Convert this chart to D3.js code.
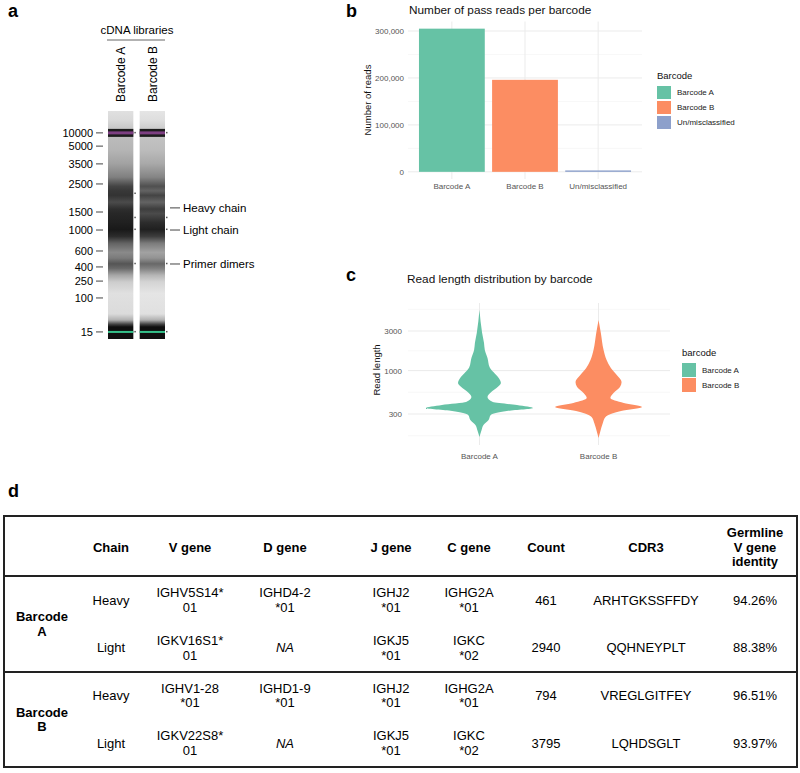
<!DOCTYPE html>
<html>
<head>
<meta charset="UTF-8">
<title></title>
<style>
    body { margin: 0; background: #fff; }
    svg { font-family: 'Liberation Sans', Arial, Helvetica, sans-serif; }
    .panel-label { font-weight: bold; font-size: 18px; fill: #000; }
    .ggtitle { font-size: 11.8px; fill: #111; }
    .axtitle { font-size: 9.5px; fill: #111; }
    .tick text { fill: #555; font-size: 8px; }
    .legtitle { font-size: 9.5px; fill: #111; }
    .leglabel { font-size: 8px; fill: #222; }
    .tbl text { font-size: 13px; fill: #000; }
</style>
</head>
<body>
<svg id="fig" width="800" height="773"></svg>
<script src="https://d3js.org/d3.v7.min.js"></script>
<script>
// ---------- data ----------
// a: gel
var gelLanes = ["Barcode A", "Barcode B"];
var ladderSizes = [10000, 5000, 3500, 2500, 1500, 1000, 600, 400, 250, 100, 15];
var ladderMigration = [0.096, 0.154, 0.232, 0.320, 0.443, 0.522, 0.614, 0.684, 0.746, 0.820, 0.969];
var gelMigration = [0, 0.04, 0.075, 0.11, 0.17, 0.23, 0.29, 0.33, 0.35, 0.37, 0.40, 0.43, 0.45, 0.49, 0.52, 0.55, 0.58, 0.62, 0.645, 0.67, 0.69, 0.72, 0.75, 0.80, 0.89, 0.917, 0.935, 0.947, 1];
var gelDarkA = [0.10, 0.13, 0.20, 0.25, 0.28, 0.36, 0.50, 0.75, 0.80, 0.82, 0.72, 0.84, 0.87, 0.90, 0.93, 0.85, 0.62, 0.46, 0.52, 0.68, 0.60, 0.34, 0.18, 0.10, 0.12, 0.30, 0.75, 0.97, 0.97];
var gelDarkB = [0.08, 0.11, 0.18, 0.22, 0.25, 0.33, 0.48, 0.70, 0.62, 0.75, 0.62, 0.78, 0.72, 0.85, 0.90, 0.78, 0.52, 0.36, 0.42, 0.60, 0.50, 0.28, 0.15, 0.08, 0.10, 0.30, 0.75, 0.97, 0.97];
var gelPeaksA = [0.096, 0.362, 0.468, 0.52, 0.67, 0.969];
var gelPeaksB = [0.096, 0.468, 0.52, 0.67, 0.969];
var gelNotes = ["Heavy chain", "Light chain", "Primer dimers"];
var gelNoteMigration = [0.425, 0.522, 0.671];

// b: reads per barcode
var readBarcodes = ["Barcode A", "Barcode B", "Un/misclassified"];
var readCounts = [305000, 196000, 3000];
var readTicks = [0, 100000, 200000, 300000];
var barcodeColors = ["#66C2A5", "#FC8D62", "#8DA0CB"];

// c: read length violins
var violinBarcodes = ["Barcode A", "Barcode B"];
var lengthA = [5370, 2840, 2150, 1770, 1420, 1100, 960, 815, 710, 635, 552, 480, 418, 385, 354, 326, 292, 254, 221, 192, 158];
var densityA = [0, 0.05, 0.085, 0.10, 0.15, 0.19, 0.26, 0.36, 0.40, 0.34, 0.22, 0.15, 0.25, 0.70, 1.0, 0.51, 0.21, 0.17, 0.075, 0.04, 0];
var lengthB = [4070, 2840, 1770, 1340, 1075, 885, 730, 635, 537, 467, 407, 364, 326, 276, 234, 182, 154];
var densityB = [0, 0.043, 0.094, 0.15, 0.23, 0.34, 0.43, 0.40, 0.28, 0.22, 0.47, 0.81, 0.42, 0.13, 0.08, 0.03, 0];
var lengthTicks = [300, 1000, 3000];

// d: table
var tableHeaders = ["", "Chain", "V gene", "D gene", "J gene", "C gene", "Count", "CDR3", "Germline|V gene|identity"];
var tableGroups = ["Barcode|A", "Barcode|B"];
var tableChains = ["Heavy", "Light", "Heavy", "Light"];
var tableVGenes = ["IGHV5S14*|01", "IGKV16S1*|01", "IGHV1-28|*01", "IGKV22S8*|01"];
var tableDGenes = ["IGHD4-2|*01", "NA", "IGHD1-9|*01", "NA"];
var tableJGenes = ["IGHJ2|*01", "IGKJ5|*01", "IGHJ2|*01", "IGKJ5|*01"];
var tableCGenes = ["IGHG2A|*01", "IGKC|*02", "IGHG2A|*01", "IGKC|*02"];
var tableCounts = [461, 2940, 794, 3795];
var tableCDR3 = ["ARHTGKSSFFDY", "QQHNEYPLT", "VREGLGITFEY", "LQHDSGLT"];
var tableIdentity = ["94.26%", "88.38%", "96.51%", "93.97%"];

// ---------- main ----------
var svg = d3.select("#fig");
var defs = svg.append("defs");

function panelLabel(t, x, y) {
    svg.append("text").attr("class", "panel-label").attr("x", x).attr("y", y).text(t);
}
panelLabel("a", 8, 17);
panelLabel("b", 346, 17);
panelLabel("c", 346, 281);
panelLabel("d", 8, 497);

// ===== panel a : gel =====
var gelY = d3.scaleLinear().domain([0, 1]).range([111, 339]);
var laneX = d3.scaleBand().domain(gelLanes).range([108, 165]).paddingInner(0.2);
function gray(d) {
    var v = Math.round(248 - 240 * d);
    return d3.rgb(v, v, v).toString();
}
var gA = svg.append("g");
[gelDarkA, gelDarkB].forEach(function(dark, i) {
    var grad = defs.append("linearGradient").attr("id", "lane" + i)
        .attr("x1", 0).attr("y1", 0).attr("x2", 0).attr("y2", 1);
    gelMigration.forEach(function(m, j) {
        grad.append("stop").attr("offset", m).attr("stop-color", gray(dark[j]));
    });
});
gA.selectAll("rect.lane").data(gelLanes).enter().append("rect")
    .attr("class", "lane")
    .attr("x", function(d) { return laneX(d); })
    .attr("y", gelY(0))
    .attr("width", laneX.bandwidth())
    .attr("height", gelY(1) - gelY(0))
    .attr("fill", function(d, i) { return "url(#lane" + i + ")"; });

// upper (10000) and lower (15) markers
var upper = ladderMigration[0], lower = ladderMigration[ladderMigration.length - 1];
gelLanes.forEach(function(l) {
    gA.append("rect").attr("x", laneX(l)).attr("width", laneX.bandwidth())
        .attr("y", gelY(upper) - 4).attr("height", 8).attr("fill", "#1c1c1c");
    gA.append("rect").attr("x", laneX(l)).attr("width", laneX.bandwidth())
        .attr("y", gelY(upper) - 1.5).attr("height", 3).attr("fill", "#7d3f82");
    gA.append("rect").attr("x", laneX(l)).attr("width", laneX.bandwidth())
        .attr("y", gelY(lower) - 1).attr("height", 2).attr("fill", "#35c08a");
});
// peak dots
[gelPeaksA, gelPeaksB].forEach(function(pk, i) {
    gA.selectAll(null).data(pk).enter().append("rect")
        .attr("x", laneX(gelLanes[i]) + laneX.bandwidth() + 1)
        .attr("y", function(d) { return gelY(d) - 1; })
        .attr("width", 1.5).attr("height", 1.5).attr("fill", "#555");
});

// ladder
gA.selectAll("text.ladder").data(ladderSizes).enter().append("text")
    .attr("class", "ladder")
    .attr("x", 93).attr("y", function(d, i) { return gelY(ladderMigration[i]); })
    .attr("dy", "0.36em").attr("text-anchor", "end")
    .style("font-size", "11px").text(function(d) { return d; });
gA.selectAll("line.ladder").data(ladderSizes).enter().append("line")
    .attr("class", "ladder")
    .attr("x1", 96).attr("x2", 103)
    .attr("y1", function(d, i) { return gelY(ladderMigration[i]); })
    .attr("y2", function(d, i) { return gelY(ladderMigration[i]); })
    .attr("stroke", "#444").attr("stroke-width", 1);

// annotations
gA.selectAll("line.note").data(gelNotes).enter().append("line")
    .attr("class", "note")
    .attr("x1", 170).attr("x2", 180)
    .attr("y1", function(d, i) { return gelY(gelNoteMigration[i]); })
    .attr("y2", function(d, i) { return gelY(gelNoteMigration[i]); })
    .attr("stroke", "#444");
gA.selectAll("text.note").data(gelNotes).enter().append("text")
    .attr("class", "note")
    .attr("x", 183).attr("y", function(d, i) { return gelY(gelNoteMigration[i]); })
    .attr("dy", "0.36em").style("font-size", "11.5px").text(function(d) { return d; });

// lane headers
gA.append("text").attr("x", 137).attr("y", 34).attr("text-anchor", "middle")
    .style("font-size", "11.5px").text("cDNA libraries");
gA.append("line").attr("x1", 107).attr("x2", 165).attr("y1", 40).attr("y2", 40)
    .attr("stroke", "#666");
gA.selectAll("text.laneLab").data(gelLanes).enter().append("text")
    .attr("class", "laneLab")
    .attr("transform", function(d) {
        return "translate(" + (laneX(d) + laneX.bandwidth() / 2 + 4.5) + ",102) rotate(-90)";
    })
    .style("font-size", "12px").text(function(d) { return d; });

// ===== shared ggplot helpers =====
function legend(g, title, labels, colors, x, y, keyH, gap) {
    g.append("text").attr("class", "legtitle").attr("x", x).attr("y", y).attr("dy", "0.36em").text(title);
    labels.forEach(function(l, i) {
        var ky = y + 10 + i * gap;
        g.append("rect").attr("x", x).attr("y", ky).attr("width", 14).attr("height", keyH)
            .attr("fill", colors[i]);
        g.append("text").attr("class", "leglabel").attr("x", x + 20).attr("y", ky + keyH / 2)
            .attr("dy", "0.36em").text(l);
    });
}

// ===== panel b : bars =====
var gB = svg.append("g");
var bx = d3.scaleBand().domain(readBarcodes).range([408, 642]).paddingInner(0.1).paddingOuter(0.15);
var bMax = d3.max(readCounts);
var by = d3.scaleLinear().domain([-0.05 * bMax, 1.05 * bMax]).range([179, 21.5]);
// minor grid
var bMinor = [50000, 150000, 250000];
gB.selectAll("line.minor").data(bMinor).enter().append("line")
    .attr("x1", 408).attr("x2", 642).attr("y1", by).attr("y2", by)
    .attr("stroke", "#f2f2f2").attr("stroke-width", 0.6);
gB.selectAll("line.hmajor").data(readTicks).enter().append("line")
    .attr("x1", 408).attr("x2", 642).attr("y1", by).attr("y2", by)
    .attr("stroke", "#ebebeb").attr("stroke-width", 1);
gB.selectAll("line.vmajor").data(readBarcodes).enter().append("line")
    .attr("x1", function(d) { return bx(d) + bx.bandwidth() / 2; })
    .attr("x2", function(d) { return bx(d) + bx.bandwidth() / 2; })
    .attr("y1", 21.5).attr("y2", 179)
    .attr("stroke", "#ebebeb").attr("stroke-width", 1);
gB.selectAll("rect.bar").data(readCounts).enter().append("rect")
    .attr("x", function(d, i) { return bx(readBarcodes[i]); })
    .attr("width", bx.bandwidth())
    .attr("y", function(d) { return by(d); })
    .attr("height", function(d) { return by(0) - by(d); })
    .attr("fill", function(d, i) { return barcodeColors[i]; });
gB.append("g").attr("transform", "translate(408,0)")
    .call(d3.axisLeft(by).tickValues(readTicks).tickFormat(d3.format(",")).tickSize(0).tickPadding(4))
    .call(function(g) { g.select(".domain").remove(); })
    .selectAll("text").style("font-family", null);
gB.append("g").attr("transform", "translate(0,179)")
    .call(d3.axisBottom(bx).tickSize(0).tickPadding(4))
    .call(function(g) { g.select(".domain").remove(); })
    .selectAll("text").style("font-family", null);
gB.append("text").attr("class", "ggtitle").attr("x", 409).attr("y", 14).text("Number of pass reads per barcode");
gB.append("text").attr("class", "axtitle").attr("text-anchor", "middle")
    .attr("transform", "translate(371,100) rotate(-90)").text("Number of reads");
legend(gB, "Barcode", readBarcodes, barcodeColors, 657, 76, 13, 15);

// ===== panel c : violins =====
var gC = svg.append("g");
var cx = d3.scaleBand().domain(violinBarcodes).range([408, 670]).paddingInner(0.1).paddingOuter(0.15);
var cy = d3.scaleLog().domain([300, 3000]).range([414, 331]);
var cTop = 303, cBot = 445;
var cMinor = [164, 548, 1732, 5477];
gC.selectAll("line.minor").data(cMinor).enter().append("line")
    .attr("x1", 408).attr("x2", 670).attr("y1", cy).attr("y2", cy)
    .attr("stroke", "#f2f2f2").attr("stroke-width", 0.6);
gC.selectAll("line.hmajor").data(lengthTicks).enter().append("line")
    .attr("x1", 408).attr("x2", 670).attr("y1", cy).attr("y2", cy)
    .attr("stroke", "#ebebeb").attr("stroke-width", 1);
gC.selectAll("line.vmajor").data(violinBarcodes).enter().append("line")
    .attr("x1", function(d) { return cx(d) + cx.bandwidth() / 2; })
    .attr("x2", function(d) { return cx(d) + cx.bandwidth() / 2; })
    .attr("y1", cTop).attr("y2", cBot)
    .attr("stroke", "#ebebeb").attr("stroke-width", 1);
var wScale = d3.scaleLinear().domain([0, 1]).range([0, cx.bandwidth() / 2]);
var violins = [[lengthA, densityA], [lengthB, densityB]];
violins.forEach(function(v, i) {
    var c = cx(violinBarcodes[i]) + cx.bandwidth() / 2;
    var pts = v[0].map(function(l, j) { return { len: l, den: v[1][j] }; });
    var area = d3.area()
        .y(function(d) { return cy(d.len); })
        .x0(function(d) { return c - wScale(d.den); })
        .x1(function(d) { return c + wScale(d.den); })
        .curve(d3.curveMonotoneY);
    gC.append("path").attr("d", area(pts)).attr("fill", barcodeColors[i]);
});
gC.append("g").attr("transform", "translate(408,0)")
    .call(d3.axisLeft(cy).tickValues(lengthTicks).tickFormat(d3.format("d")).tickSize(0).tickPadding(6))
    .call(function(g) { g.select(".domain").remove(); })
    .selectAll("text").style("font-family", null);
gC.append("g").attr("transform", "translate(0," + cBot + ")")
    .call(d3.axisBottom(cx).tickSize(0).tickPadding(8))
    .call(function(g) { g.select(".domain").remove(); })
    .selectAll("text").style("font-family", null);
gC.append("text").attr("class", "ggtitle").attr("x", 407).attr("y", 283).text("Read length distribution by barcode");
gC.append("text").attr("class", "axtitle").attr("text-anchor", "middle")
    .attr("transform", "translate(380,370) rotate(-90)").text("Read length");
legend(gC, "barcode", violinBarcodes, barcodeColors, 682, 353, 14, 15);

// ===== panel d : table =====
var gD = svg.append("g").attr("class", "tbl");
var colX = [42, 111, 190, 285, 391, 469, 546, 646, 755];
var rowY = d3.scaleLinear().domain([0, 3]).range([600, 743]);
var lineH = 14.5;
function multiText(g, str, x, y, weight, italic) {
    var parts = str.split("|");
    var t = g.append("text").attr("x", x).attr("text-anchor", "middle")
        .style("font-weight", weight || null).style("font-style", italic ? "italic" : null);
    parts.forEach(function(p, k) {
        t.append("tspan").attr("x", x)
            .attr("y", y + (k - (parts.length - 1) / 2) * lineH)
            .attr("dy", "0.36em").text(p);
    });
}
gD.append("rect").attr("x", 4).attr("y", 516).attr("width", 793).attr("height", 251)
    .attr("fill", "none").attr("stroke", "#222").attr("stroke-width", 2);
[576, 672].forEach(function(yy) {
    gD.append("line").attr("x1", 4).attr("x2", 797).attr("y1", yy).attr("y2", yy)
        .attr("stroke", "#222").attr("stroke-width", 2);
});
tableHeaders.forEach(function(h, j) {
    if (h) multiText(gD, h, colX[j], 547, "bold");
});
tableGroups.forEach(function(g, i) {
    multiText(gD, g, colX[0], (rowY(2 * i) + rowY(2 * i + 1)) / 2, "bold");
});
var cols = [tableChains, tableVGenes, tableDGenes, tableJGenes, tableCGenes, tableCounts, tableCDR3, tableIdentity];
cols.forEach(function(col, j) {
    col.forEach(function(v, i) {
        multiText(gD, String(v), colX[j + 1], rowY(i), null, v === "NA");
    });
});
</script>
</body>
</html>
